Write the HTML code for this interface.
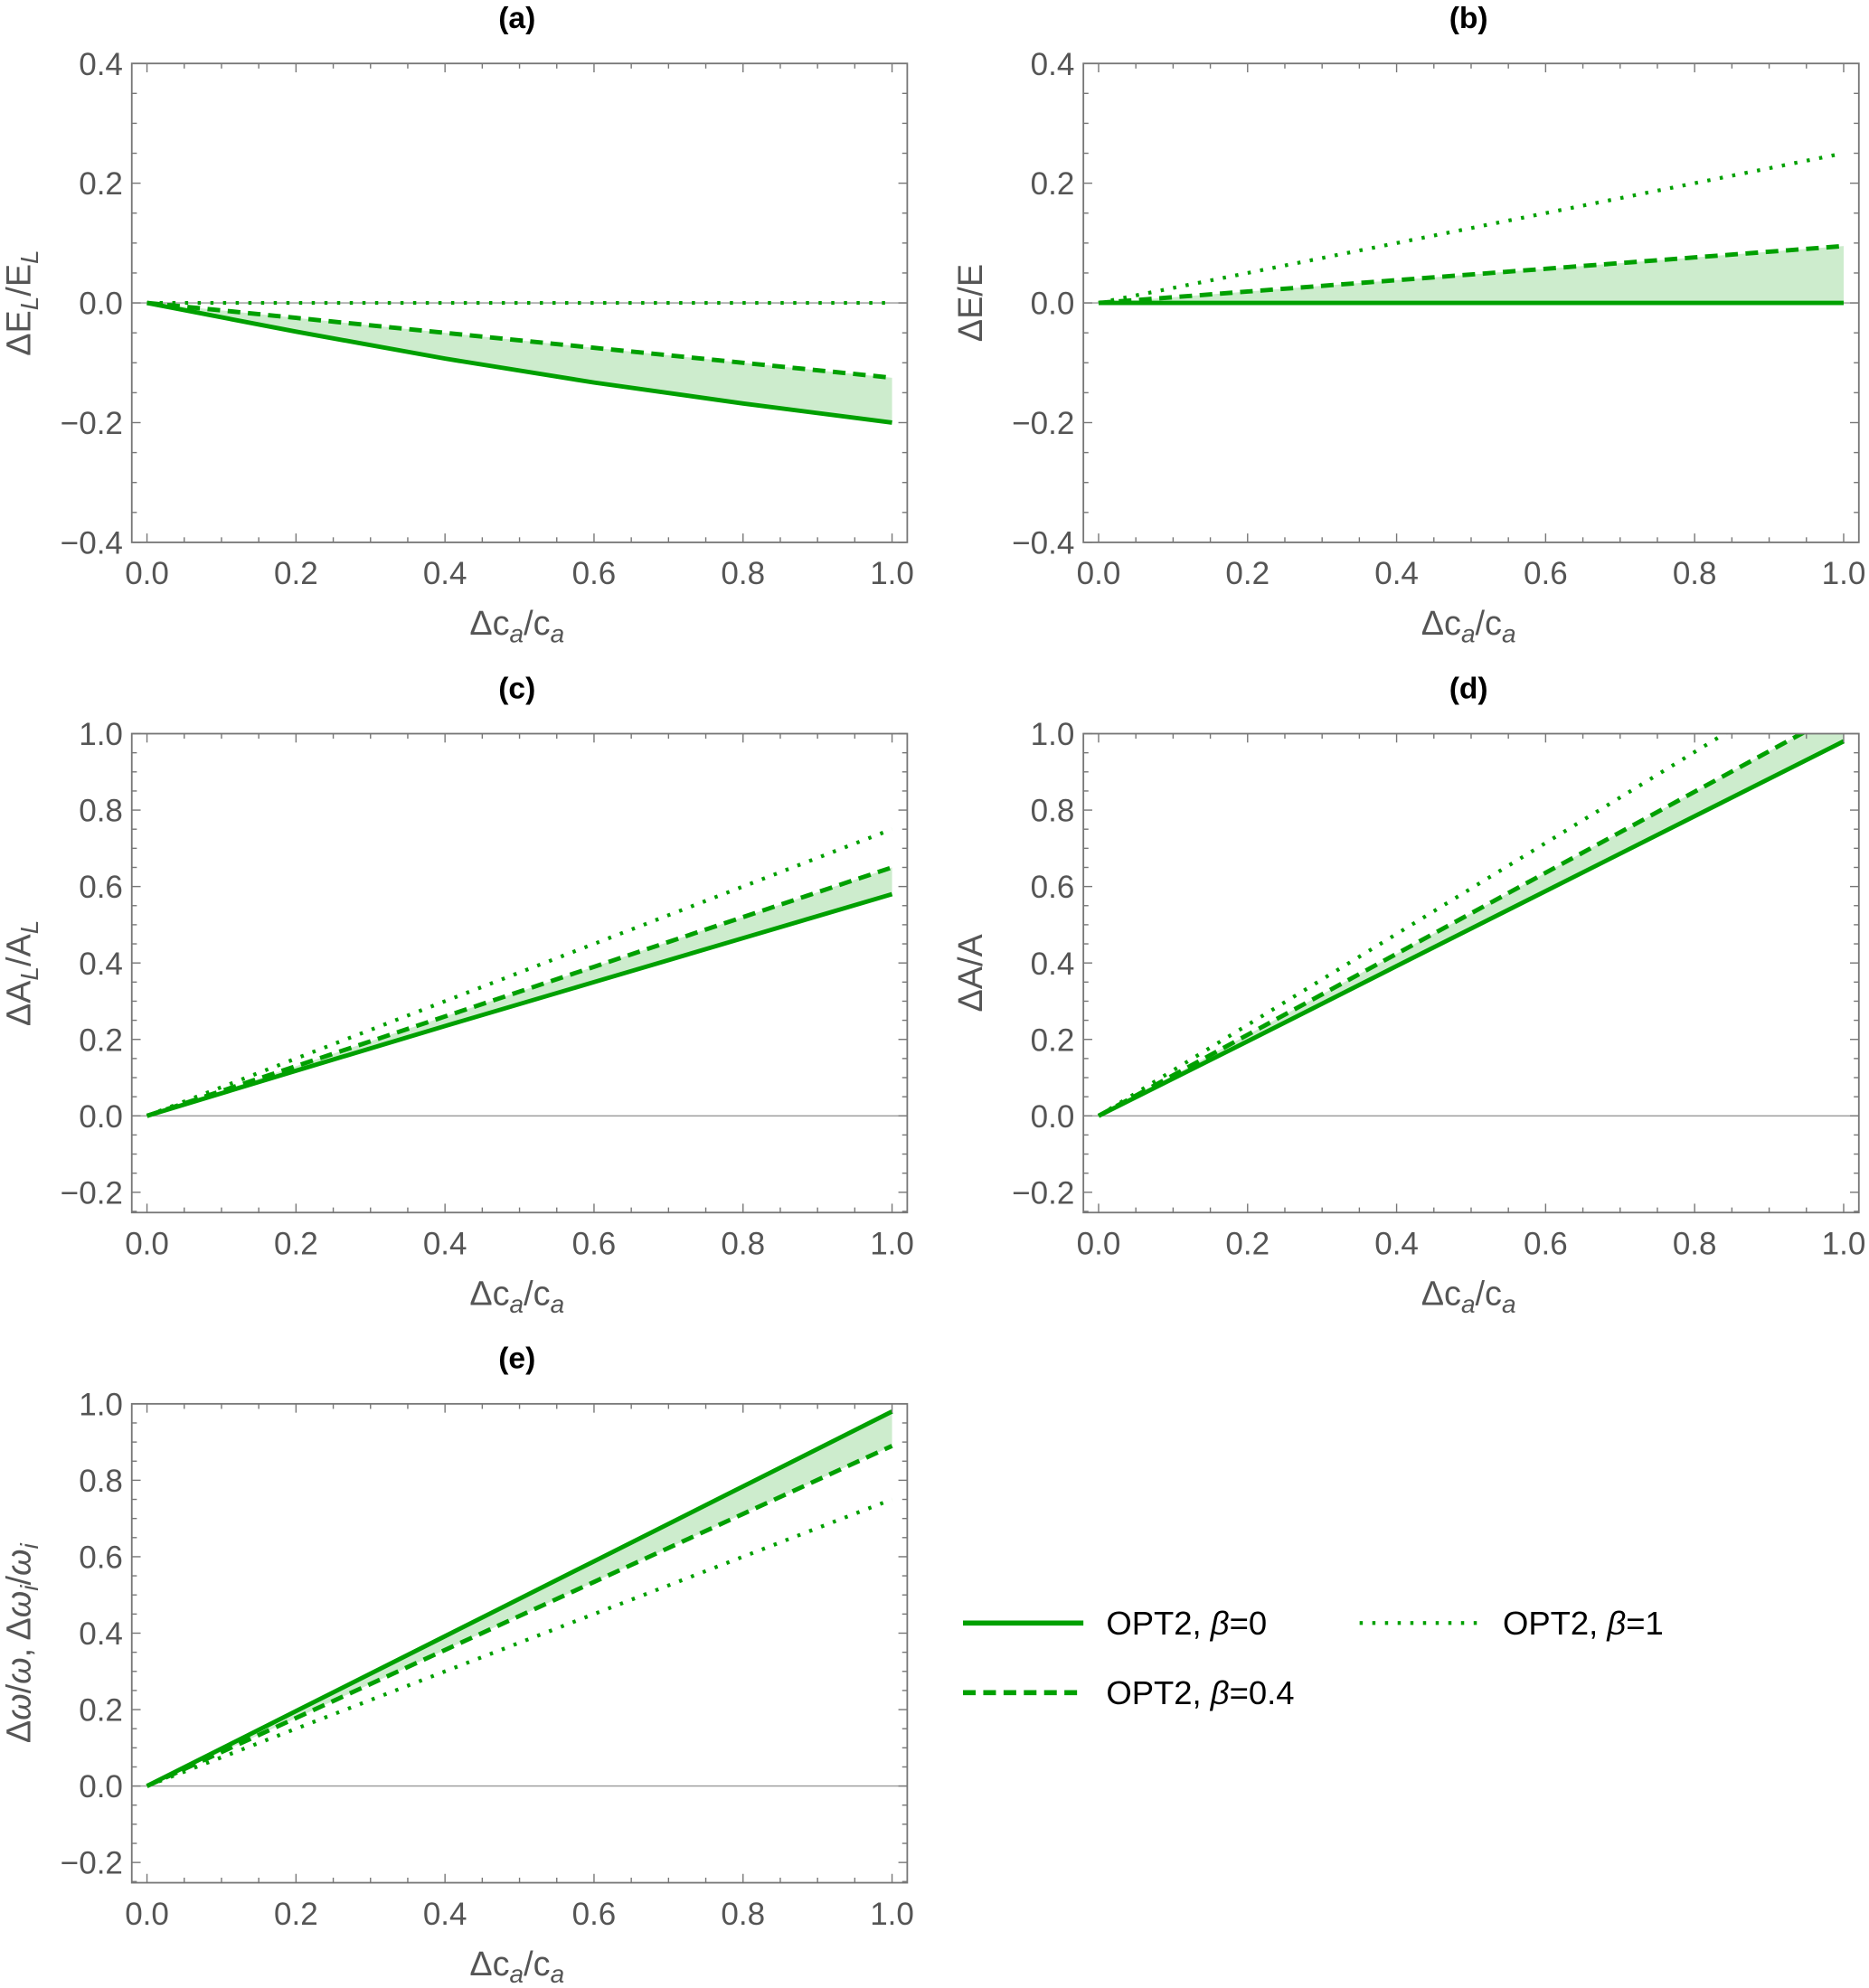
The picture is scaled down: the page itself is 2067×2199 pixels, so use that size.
<!DOCTYPE html>
<html><head><meta charset="utf-8">
<style>
html,body{margin:0;padding:0;background:#fff;}
svg{display:block;}
text{font-family:"Liberation Sans",sans-serif;}
.tick{fill:#555;font-size:25px;}
.atitle{fill:#555;font-size:27px;}
.ptitle{fill:#000;font-size:24px;font-weight:bold;}
.leg{fill:#000;font-size:26px;}
</style></head>
<body>
<svg id="fig" width="2067" height="2199" viewBox="0 0 1475 1569" xmlns="http://www.w3.org/2000/svg"></svg>
<script>
// x samples shared by all panels
const xVals = [0, 0.2, 0.4, 0.6, 0.8, 1.0];
// panel (a) ΔE_L/E_L
const aSolid = [0, -0.048, -0.093, -0.133, -0.168, -0.200];
const aDashed = [0, -0.025, -0.050, -0.075, -0.100, -0.125];
const aDotted = [0, 0, 0, 0, 0, 0];
// panel (b) ΔE/E
const bSolid = [0, 0, 0, 0, 0, 0];
const bDashed = [0, 0.019, 0.038, 0.057, 0.076, 0.095];
const bDotted = [0, 0.05, 0.10, 0.15, 0.20, 0.25];
// panel (c) ΔA_L/A_L
const cSolid = [0, 0.118, 0.235, 0.350, 0.465, 0.580];
const cDashed = [0, 0.130, 0.260, 0.390, 0.520, 0.650];
const cDotted = [0, 0.150, 0.300, 0.450, 0.600, 0.750];
// panel (d) ΔA/A
const dSolid = [0, 0.195, 0.392, 0.588, 0.784, 0.980];
const dDashed = [0, 0.212, 0.424, 0.636, 0.848, 1.060];
const dDotted = [0, 0.238, 0.476, 0.714, 0.952, 1.190];
// panel (e) Δω/ω
const eSolid = [0, 0.196, 0.392, 0.588, 0.784, 0.980];
const eDashed = [0, 0.178, 0.356, 0.534, 0.712, 0.890];
const eDotted = [0, 0.150, 0.300, 0.450, 0.600, 0.750];
// ticks
const xTicks = [0, 0.2, 0.4, 0.6, 0.8, 1.0];
const xTickLabels = ["0.0","0.2","0.4","0.6","0.8","1.0"];
const yTicksAB = [-0.4, -0.2, 0, 0.2, 0.4];
const yTickLabelsAB = ["\u22120.4","\u22120.2","0.0","0.2","0.4"];
const yTicksCDE = [-0.2, 0, 0.2, 0.4, 0.6, 0.8, 1.0];
const yTickLabelsCDE = ["\u22120.2","0.0","0.2","0.4","0.6","0.8","1.0"];

const NS = "http://www.w3.org/2000/svg";
const svg = document.getElementById("fig");
const GREEN = "#00a000";
function mk(tag, attrs, parent){
  const e = document.createElementNS(NS, tag);
  for (const k in attrs) e.setAttribute(k, attrs[k]);
  (parent||svg).appendChild(e);
  return e;
}
const SUB = t => '<tspan font-style="italic" dy="6" font-size="20">'+t+'</tspan><tspan dy="-6">';

const panels = [
  {id:"a", title:"(a)", L:104, xL:116, xR:704, yMin:-0.4, yMax:0.4, top:50, bot:428, yt:yTicksAB, ytl:yTickLabelsAB,
   solid:aSolid, dashed:aDashed, dotted:aDotted, ylab:'ΔE'+SUB('L')+'/E</tspan>'+SUB('L')+'</tspan>'},
  {id:"b", title:"(b)", L:855, xL:867, xR:1455, yMin:-0.4, yMax:0.4, top:50, bot:428, yt:yTicksAB, ytl:yTickLabelsAB,
   solid:bSolid, dashed:bDashed, dotted:bDotted, ylab:'ΔE/E'},
  {id:"c", title:"(c)", L:104, xL:116, xR:704, yMin:-0.253, yMax:1.0, top:579, bot:957, yt:yTicksCDE, ytl:yTickLabelsCDE,
   solid:cSolid, dashed:cDashed, dotted:cDotted, ylab:'ΔA'+SUB('L')+'/A</tspan>'+SUB('L')+'</tspan>'},
  {id:"d", title:"(d)", L:855, xL:867, xR:1455, yMin:-0.253, yMax:1.0, top:579, bot:957, yt:yTicksCDE, ytl:yTickLabelsCDE,
   solid:dSolid, dashed:dDashed, dotted:dDotted, ylab:'ΔA/A'},
  {id:"e", title:"(e)", L:104, xL:116, xR:704, yMin:-0.253, yMax:1.0, top:1108, bot:1486, yt:yTicksCDE, ytl:yTickLabelsCDE,
   solid:eSolid, dashed:eDashed, dotted:eDotted, ylab:'Δ<tspan font-style="italic">ω</tspan>/<tspan font-style="italic">ω</tspan>, Δ<tspan font-style="italic">ω</tspan>'+SUB('i')+'/</tspan><tspan font-style="italic">ω</tspan>'+SUB('i')+'</tspan>'}
];

panels.forEach(p => {
  const R = p.L + 612;
  const sx = v => p.xL + (p.xR - p.xL) * v;
  const sy = v => p.bot - (v - p.yMin) / (p.yMax - p.yMin) * (p.bot - p.top);
  const g = mk("g", {});
  
  
  const clipId = "clip" + p.id;
  const cp = mk("clipPath", {id: clipId}, g);
  mk("rect", {x:p.L, y:p.top, width:612, height:p.bot-p.top}, cp);

  const zl = mk("line", {x1:p.L, x2:R, y1:sy(0), y2:sy(0), stroke:"#999", "stroke-width":1}, g);
  
  

  const plot = mk("g", {"clip-path":"url(#"+clipId+")"}, g);
  let d = "";
  xVals.forEach((x,i) => { d += (i?"L":"M") + sx(x) + "," + sy(p.solid[i]); });
  for (let i = xVals.length-1; i >= 0; i--) d += "L" + sx(xVals[i]) + "," + sy(p.dashed[i]);
  const fill = mk("path", {d: d + "Z", fill:"#cdeccd", stroke:"none"}, plot);
  
  

  const series = [
    {arr:p.dotted, w:3, dash:"2.5 7.5", name:"dotted-beta-1"},
    {arr:p.dashed, w:3.5, dash:"10 6", name:"dashed-beta-0.4"},
    {arr:p.solid, w:3.5, dash:"", name:"solid-beta-0"}
  ];
  series.forEach(s => {
    const pts = xVals.map((x,i) => sx(x) + "," + sy(s.arr[i])).join(" ");
    const pl = mk("polyline", {points:pts, fill:"none", stroke:GREEN, "stroke-width":s.w, "stroke-linejoin":"round"}, plot);
    if (s.dash) pl.setAttribute("stroke-dasharray", s.dash);
    
    
  });

  const fr = mk("rect", {x:p.L, y:p.top, width:612, height:p.bot-p.top, fill:"none", stroke:"#777", "stroke-width":1.3}, g);
  
  

  for (let k = 0; k <= 20; k++) {
    const v = k*0.05, X = sx(v), len = (k%4===0)?7:4;
    mk("line", {x1:X,x2:X,y1:p.bot,y2:p.bot-len,stroke:"#777","stroke-width":1}, g);
    mk("line", {x1:X,x2:X,y1:p.top,y2:p.top+len,stroke:"#777","stroke-width":1}, g);
  }
  xTicks.forEach((v,i) => {
    const t = mk("text", {x:sx(v), y:p.bot+33, "text-anchor":"middle", class:"tick"}, g);
    t.textContent = xTickLabels[i];
    
    
  });
  for (let v = Math.ceil(p.yMin/0.05)*0.05; v <= p.yMax+1e-9; v += 0.05) {
    const Y = sy(v), maj = Math.abs(Math.round(v/0.2)*0.2 - v) < 1e-6, len = maj?7:4;
    mk("line", {x1:p.L,x2:p.L+len,y1:Y,y2:Y,stroke:"#777","stroke-width":1}, g);
    mk("line", {x1:R,x2:R-len,y1:Y,y2:Y,stroke:"#777","stroke-width":1}, g);
  }
  p.yt.forEach((v,i) => {
    const t = mk("text", {x:p.L-7, y:sy(v)+9, "text-anchor":"end", class:"tick"}, g);
    t.textContent = p.ytl[i];
    
    
  });
  const tt = mk("text", {x:p.L+304, y:p.top-28, "text-anchor":"middle", class:"ptitle"}, g);
  tt.textContent = p.title;
  
  
  const xt = mk("text", {x:p.L+304, y:p.bot+73, "text-anchor":"middle", class:"atitle"}, g);
  xt.innerHTML = 'Δc'+SUB('a')+'/c</tspan>'+SUB('a')+'</tspan>';
  
  
  const cy = (p.top+p.bot)/2;
  const yt = mk("text", {x:p.L-80, y:cy, "text-anchor":"middle", class:"atitle", transform:"rotate(-90 "+(p.L-80)+" "+cy+")"}, g);
  yt.innerHTML = p.ylab;
  
  
});

const legend = mk("g", {});


const legItems = [
  {x:760, y:1281, dash:"", w:4, label:"0"},
  {x:1073, y:1281, dash:"2.5 7.5", w:3, label:"1"},
  {x:760, y:1336, dash:"10 6", w:4, label:"0.4"}
];
legItems.forEach(it => {
  const ln = mk("line", {x1:it.x, x2:it.x+95, y1:it.y, y2:it.y, stroke:GREEN, "stroke-width":it.w}, legend);
  if (it.dash) ln.setAttribute("stroke-dasharray", it.dash);
  
  
  const t = mk("text", {x:it.x+113, y:it.y+9, class:"leg"}, legend);
  t.innerHTML = 'OPT2, <tspan font-style="italic">β</tspan>=' + it.label;
  
  
});
</script>
</body></html>
